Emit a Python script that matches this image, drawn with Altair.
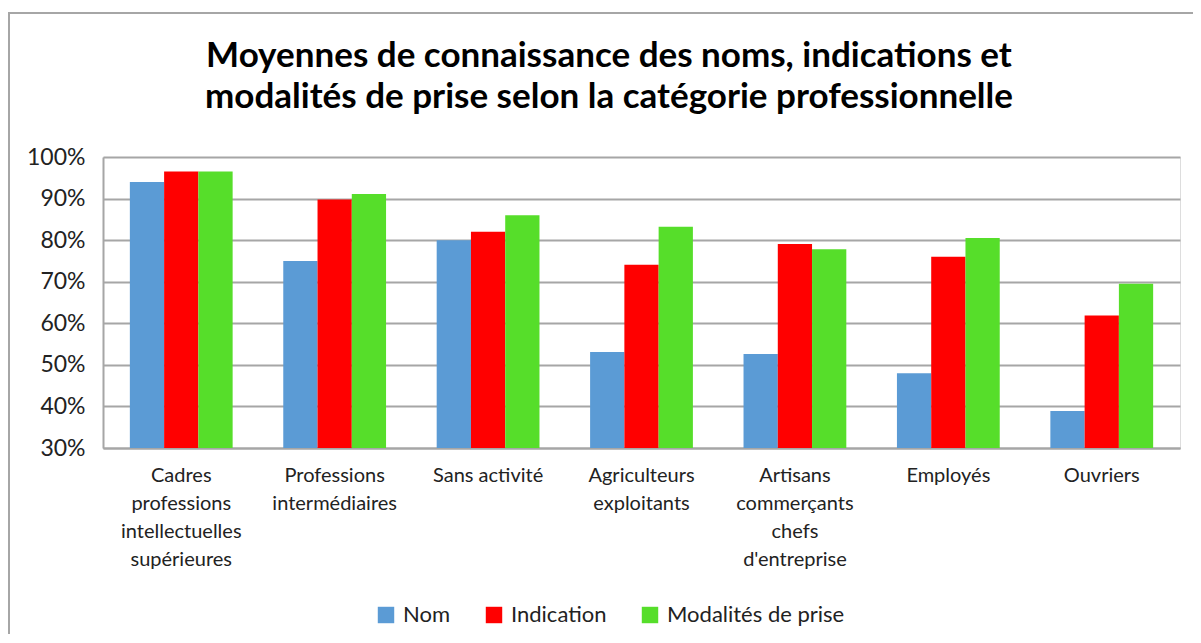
import altair as alt
import pandas as pd

title_lines = ["Moyennes de connaissance des noms, indications et",
               "modalités de prise selon la catégorie professionnelle"]
categories = [
    "Cadres|professions|intellectuelles|supérieures",
    "Professions|intermédiaires",
    "Sans activité",
    "Agriculteurs|exploitants",
    "Artisans|commerçants|chefs|d'entreprise",
    "Employés",
    "Ouvriers",
]
series = ["Nom", "Indication", "Modalités de prise"]
nom = [0.94, 0.75, 0.80, 0.531, 0.526, 0.48, 0.389]
indication = [0.965, 0.898, 0.82, 0.741, 0.791, 0.76, 0.619]
modalites = [0.965, 0.911, 0.86, 0.832, 0.778, 0.805, 0.695]
colors = ["#5B9BD5", "#FF0000", "#56DE2A"]
y_ticks = [0.3, 0.4, 0.5, 0.6, 0.7, 0.8, 0.9, 1.0]

rows = []
for i, c in enumerate(categories):
    for s, vals in zip(series, [nom, indication, modalites]):
        rows.append({"cat": c, "serie": s, "val": vals[i]})
df = pd.DataFrame(rows)

FONT = "Lato"
TXT = "#222222"
GRID = "#a6a6a6"

bars = alt.Chart(df).mark_bar(clip=True).encode(
    x=alt.X("cat:N", sort=categories, title=None,
            scale=alt.Scale(paddingInner=0.33, paddingOuter=0.175),
            axis=alt.Axis(labelExpr="split(datum.label, '|')", labelAngle=0,
                          labelFont=FONT, labelFontSize=20, labelColor=TXT,
                          labelLineHeight=28, labelPadding=17, labelLimit=300,
                          ticks=False, domainColor=GRID, domainWidth=2,
                          labelBaseline="top")),
    xOffset=alt.XOffset("serie:N", sort=series, scale=alt.Scale(paddingInner=0, paddingOuter=0)),
    y=alt.Y("val:Q", title=None,
            scale=alt.Scale(domain=[0.3, 1.0], nice=False, zero=False),
            axis=alt.Axis(values=y_ticks, format=".0%", labelFont=FONT, labelFontSize=23,
                          labelColor=TXT, labelPadding=18, ticks=False,
                          domainColor=GRID, domainWidth=2,
                          gridColor=GRID, gridWidth=2)),
    color=alt.Color("serie:N", sort=series,
                    scale=alt.Scale(domain=series, range=colors),
                    legend=alt.Legend(title=None, orient="none", direction="horizontal",
                                      legendX=272, legendY=447,
                                      symbolType="square", symbolSize=270,
                                      symbolStrokeWidth=0, labelFont=FONT,
                                      labelFontSize=22, labelColor=TXT, labelLimit=400,
                                      labelOffset=6, columnPadding=32)),
)

border = alt.Chart(pd.DataFrame({"a": [0]})).mark_rect(
    fill=None, stroke=GRID, strokeWidth=2
).encode(
    x=alt.value(-94), x2=alt.value(1300),
    y=alt.value(-144), y2=alt.value(700),
)

title = alt.Chart(pd.DataFrame({"t": ["|".join(title_lines)]})).mark_text(
    font=FONT, fontSize=35, fontWeight="bold", color="#000000",
    align="center", baseline="alphabetic", lineBreak="|", lineHeight=41,
).encode(
    text="t:N", x=alt.value(506), y=alt.value(-90),
)

chart = alt.layer(border, title, bars).properties(
    width=1077, height=291,
    padding={"left": 95, "top": 149, "right": 13, "bottom": 186},
    autosize=alt.AutoSizeParams(type="none"),
).configure_view(stroke=None).configure(background="white")

chart.save("out.html", embed_options={"renderer": "svg", "actions": False})
